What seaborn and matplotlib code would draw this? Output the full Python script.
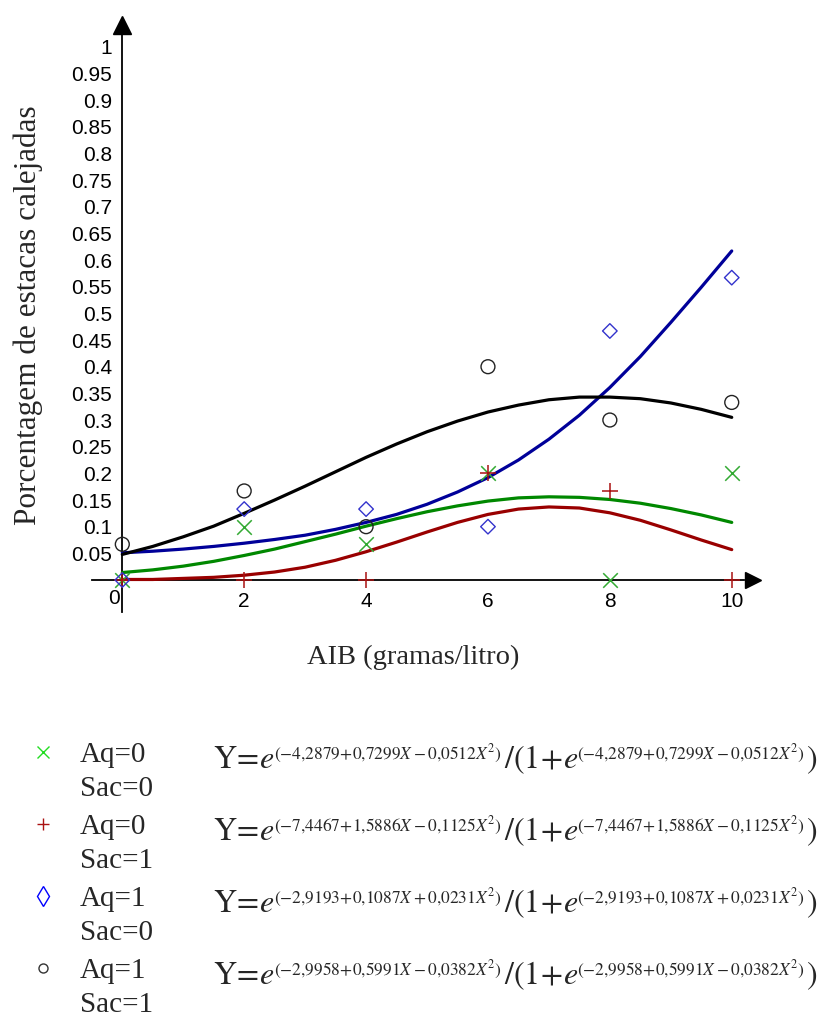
import numpy as np
import pandas as pd
import matplotlib
matplotlib.use("Agg")
import matplotlib.pyplot as plt
import matplotlib.transforms as mtransforms
import seaborn as sns
from matplotlib.lines import Line2D

# observed proportions at each AIB dose
dose = [0, 2, 4, 6, 8, 10]
obs_aq0_sac0 = [0, 0.1, 0.067, 0.2, 0, 0.2]
obs_aq0_sac1 = [0, 0, 0, 0.2, 0.167, 0]
obs_aq1_sac0 = [0, 0.133, 0.133, 0.1, 0.467, 0.567]
obs_aq1_sac1 = [0.067, 0.167, 0.1, 0.4, 0.3, 0.333]

# fitted curves
fit_x = [0, 0.5, 1, 1.5, 2, 2.5, 3, 3.5, 4, 4.5, 5, 5.5, 6, 6.5, 7, 7.5, 8, 8.5, 9, 9.5, 10]
fit_aq0_sac0 = [0.014, 0.019, 0.026, 0.035, 0.046, 0.058, 0.072, 0.086, 0.101, 0.115, 0.128,
                0.139, 0.148, 0.154, 0.156, 0.155, 0.151, 0.144, 0.134, 0.122, 0.108]
fit_aq0_sac1 = [0.001, 0.001, 0.003, 0.005, 0.009, 0.015, 0.024, 0.037, 0.053, 0.071, 0.090,
                0.108, 0.123, 0.133, 0.137, 0.135, 0.126, 0.112, 0.094, 0.075, 0.057]
fit_aq1_sac0 = [0.051, 0.054, 0.058, 0.063, 0.069, 0.076, 0.084, 0.095, 0.108, 0.123, 0.142,
                0.165, 0.192, 0.225, 0.264, 0.309, 0.361, 0.419, 0.483, 0.549, 0.617]
fit_aq1_sac1 = [0.048, 0.063, 0.081, 0.101, 0.125, 0.150, 0.176, 0.203, 0.230, 0.255, 0.278,
                0.298, 0.315, 0.328, 0.338, 0.343, 0.343, 0.340, 0.332, 0.320, 0.305]

yticks = [0.05, 0.1, 0.15, 0.2, 0.25, 0.3, 0.35, 0.4, 0.45, 0.5, 0.55, 0.6, 0.65, 0.7,
          0.75, 0.8, 0.85, 0.9, 0.95, 1]
ytick_labels = ["0.05", "0.1", "0.15", "0.2", "0.25", "0.3", "0.35", "0.4", "0.45", "0.5",
                "0.55", "0.6", "0.65", "0.7", "0.75", "0.8", "0.85", "0.9", "0.95", "1"]
xticks = [0, 1, 2, 3, 4, 5, 6, 7, 8, 9, 10]
xtick_labels = ["0", "", "2", "", "4", "", "6", "", "8", "", "10"]

group_aq = ["Aq=0", "Aq=0", "Aq=1", "Aq=1"]
group_sac = ["Sac=0", "Sac=1", "Sac=0", "Sac=1"]
coef_text = [r"(-4{,}2879\!+\!0{,}7299X-0{,}0512X^{2})",
             r"(-7{,}4467\!+\!1{,}5886X-0{,}1125X^{2})",
             r"(-2{,}9193\!+\!0{,}1087X+0{,}0231X^{2})",
             r"(-2{,}9958\!+\!0{,}5991X-0{,}0382X^{2})"]

sns.set_theme(style="white")
plt.rcParams["font.family"] = ["Liberation Sans", "DejaVu Sans"]
plt.rcParams["mathtext.fontset"] = "stix"

W, H = 823, 1018
fig = plt.figure(figsize=(W / 100, H / 100), dpi=100)
ax = fig.add_axes([0.11158, 0.39882, 0.82196, 0.59194])
ax.set_xlim(-0.5, 10.6)
ax.set_ylim(-0.06, 1.07)

line_cols = ["#008800", "#990000", "#000099", "#000000"]
pt_cols = ["#33aa33", "#aa1111", "#3333cc", "#222222"]
fits = [fit_aq0_sac0, fit_aq0_sac1, fit_aq1_sac0, fit_aq1_sac1]
obs = [obs_aq0_sac0, obs_aq0_sac1, obs_aq1_sac0, obs_aq1_sac1]

for f, c in zip(fits, line_cols):
    sns.lineplot(x=fit_x, y=f, ax=ax, color=c, linewidth=2.3, zorder=3)

# points
sns.scatterplot(x=dose, y=obs[0], ax=ax, marker="x", s=110, color=pt_cols[0],
                linewidth=1.1, zorder=5, clip_on=False)
sns.scatterplot(x=dose, y=obs[1], ax=ax, marker="+", s=130, color=pt_cols[1],
                linewidth=1.1, zorder=5, clip_on=False)
ax.scatter(dose, obs[2], marker="D", s=55, facecolors="none", edgecolors=pt_cols[2],
           linewidths=1.0, zorder=5, clip_on=False)
ax.scatter(dose, obs[3], marker="o", s=100, facecolors="none", edgecolors=pt_cols[3],
           linewidths=1.0, zorder=5, clip_on=False)

# axes through origin with arrows
for s in ["top", "right"]:
    ax.spines[s].set_visible(False)
ax.spines["left"].set_position(("data", 0))
ax.spines["bottom"].set_position(("data", 0))
ax.spines["left"].set_bounds(-0.06, 1.025)
ax.spines["bottom"].set_bounds(-0.5, 10.2)
for s in ["left", "bottom"]:
    ax.spines[s].set_color("black")
    ax.spines[s].set_linewidth(1.3)
ax.plot([0], [1.04], marker="^", ms=13, color="black", clip_on=False, zorder=6)
ax.plot([10.35], [0], marker=">", ms=12, color="black", clip_on=False, zorder=6)

ax.set_yticks(yticks)
ax.set_yticklabels(ytick_labels)
ax.set_xticks(xticks)
ax.set_xticklabels(xtick_labels)
ax.tick_params(axis="both", direction="inout", length=7, width=1.2, colors="black",
               labelsize=15, pad=4)
ax.tick_params(axis="x", pad=5)
ax.grid(False)
ax.patch.set_alpha(0)
# the origin label sits a little left of the axis
zero_lab = ax.get_xticklabels()[0]
zero_lab.set_transform(zero_lab.get_transform() +
                       mtransforms.ScaledTranslation(-8 / 100, 3 / 100, fig.dpi_scale_trans))

fig.text(28 / W, 1 - 315 / H, "Porcentagem de estacas calejadas", rotation=90,
         ha="center", va="center", fontsize=22.5, family="Liberation Serif")
fig.text(413 / W, 1 - 657 / H, "AIB (gramas/litro)", ha="center", va="center",
         fontsize=20.5, family="Liberation Serif")

# legend block
leg_marks = [dict(marker="x", ms=8, color="#22dd22", mew=1.0, mfc="none"),
             dict(marker="+", ms=9, color="#aa1111", mew=1.0, mfc="none"),
             dict(marker="d", ms=10, color="#0000ff", mew=1.0, mfc="none"),
             dict(marker="o", ms=6.5, color="#333333", mew=1.0, mfc="none")]

renderer = fig.canvas.get_renderer()


def put(xpx, ypx, s, size):
    t = fig.text(xpx / W, 1 - ypx / H, s, ha="left", va="baseline", fontsize=size)
    return xpx + t.get_window_extent(renderer).width


for i in range(4):
    yc = 752 + i * 72
    fig.add_artist(Line2D([43 / W], [1 - yc / H], transform=fig.transFigure,
                          linestyle="none", **leg_marks[i]))
    fig.text(80 / W, 1 - (yc + 10) / H, group_aq[i], ha="left", va="baseline",
             fontsize=21, family="Liberation Serif")
    fig.text(80 / W, 1 - (yc + 44) / H, group_sac[i], ha="left", va="baseline",
             fontsize=21, family="Liberation Serif")
    base = yc + 16
    expo = "$" + coef_text[i] + "$"
    x = put(213, base, r"$\mathrm{Y}\!=\!e$", 23)
    x = put(x - 1, base - 9, expo, 12.5)
    x = put(x + 2, base, r"$/(1\!+\!e$", 23)
    x = put(x - 1, base - 9, expo, 12.5)
    put(x + 1, base, r"$)$", 23)

fig.savefig("out.png", dpi=100)
